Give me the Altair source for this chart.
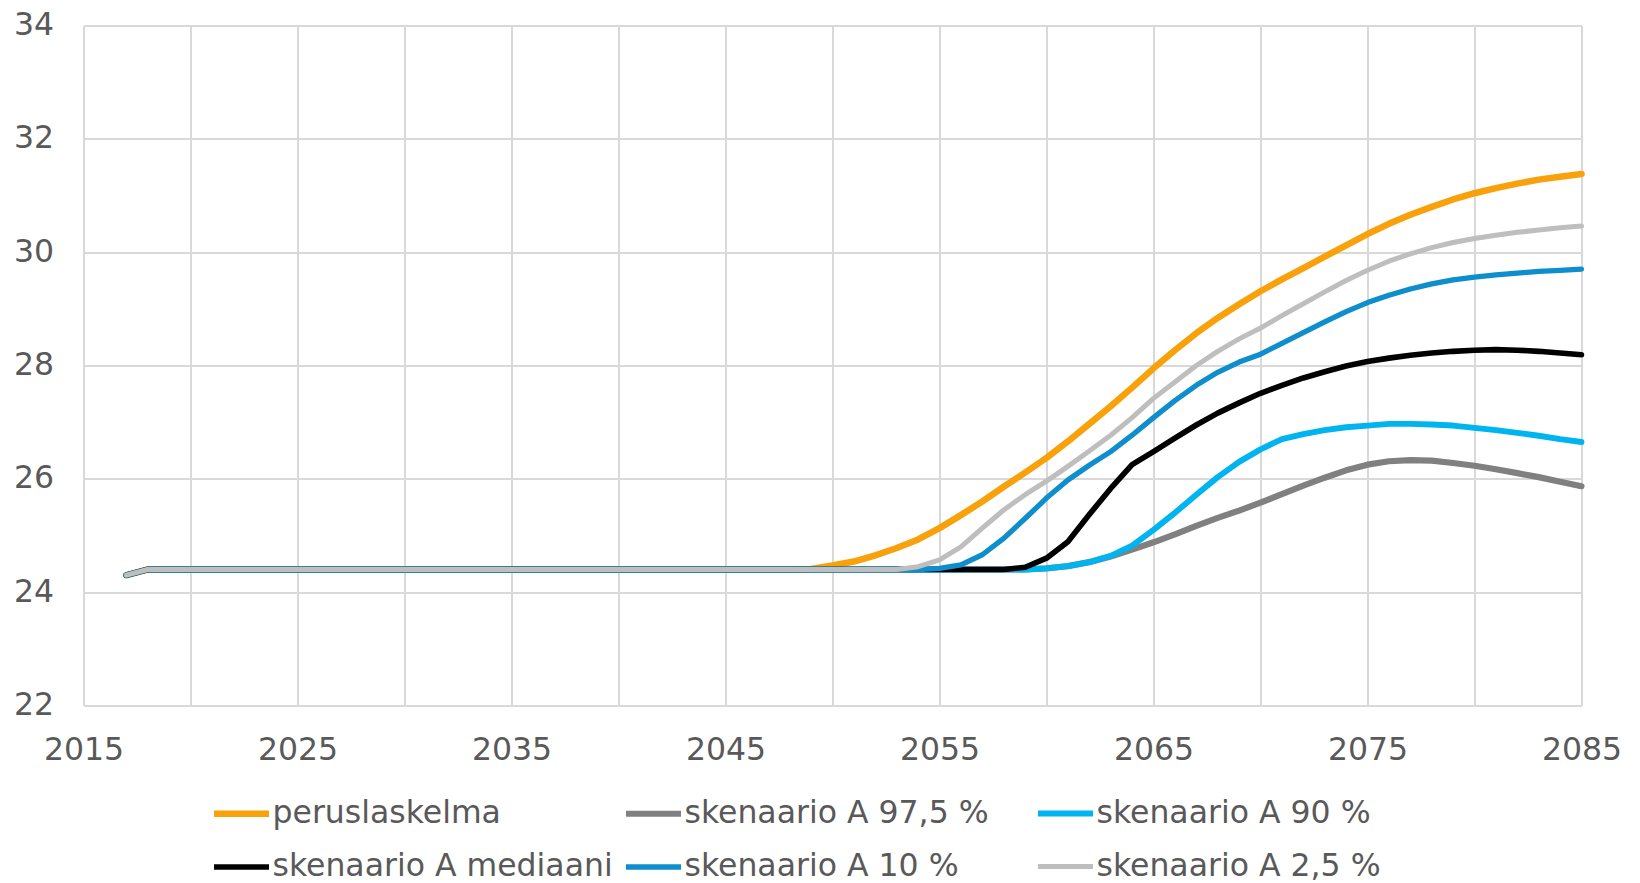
import altair as alt
import pandas as pd

years = list(range(2017, 2086))

series_names = [
    "peruslaskelma",
    "skenaario A 97,5 %",
    "skenaario A 90 %",
    "skenaario A mediaani",
    "skenaario A 10 %",
    "skenaario A 2,5 %",
]
series_colors = ["#F8A10B", "#808080", "#00B4F0", "#000000", "#0E8ECC", "#BEBEBE"]
series_widths = [6.5, 5, 5, 5, 5, 5]

x_grid_values = [2015, 2020, 2025, 2030, 2035, 2040, 2045, 2050, 2055, 2060, 2065, 2070, 2075, 2080, 2085]
y_tick_values = [22, 24, 26, 28, 30, 32, 34]

# 2017-2046 (same for every series)
common_start = [
    24.3, 24.4, 24.4, 24.4, 24.4, 24.4, 24.4, 24.4, 24.4, 24.4,
    24.4, 24.4, 24.4, 24.4, 24.4, 24.4, 24.4, 24.4, 24.4, 24.4,
    24.4, 24.4, 24.4, 24.4, 24.4, 24.4, 24.4, 24.4, 24.4, 24.4,
]

# 2047-2085
peruslaskelma = [
    24.4, 24.4, 24.41, 24.47, 24.54, 24.65, 24.78, 24.93, 25.13, 25.36,
    25.60, 25.86, 26.11, 26.37, 26.66, 26.97, 27.28, 27.61, 27.95, 28.27,
    28.57, 28.84, 29.08, 29.31, 29.52, 29.72, 29.92, 30.12, 30.32, 30.50,
    30.66, 30.80, 30.93, 31.04, 31.13, 31.21, 31.28, 31.33, 31.38,
]
skenaario_975 = [
    24.4, 24.4, 24.4, 24.4, 24.4, 24.4, 24.4, 24.4, 24.4, 24.4,
    24.4, 24.4, 24.4, 24.42, 24.46, 24.53, 24.63, 24.75, 24.88, 25.02,
    25.17, 25.31, 25.44, 25.58, 25.73, 25.88, 26.02, 26.15, 26.25, 26.31,
    26.33, 26.32, 26.28, 26.23, 26.17, 26.10, 26.03, 25.95, 25.87,
]
skenaario_90 = [
    24.4, 24.4, 24.4, 24.4, 24.4, 24.4, 24.4, 24.4, 24.4, 24.4,
    24.4, 24.4, 24.4, 24.42, 24.46, 24.53, 24.64, 24.82, 25.10, 25.40,
    25.72, 26.03, 26.30, 26.52, 26.70, 26.79, 26.86, 26.91, 26.94, 26.97,
    26.97, 26.96, 26.94, 26.90, 26.86, 26.81, 26.76, 26.70, 26.65,
]
skenaario_med = [
    24.4, 24.4, 24.4, 24.4, 24.4, 24.4, 24.4, 24.4, 24.4, 24.4,
    24.4, 24.4, 24.44, 24.60, 24.89, 25.37, 25.83, 26.25, 26.48, 26.72,
    26.95, 27.16, 27.34, 27.51, 27.65, 27.78, 27.89, 27.99, 28.07, 28.13,
    28.18, 28.22, 28.25, 28.27, 28.28, 28.27, 28.25, 28.22, 28.19,
]
skenaario_10 = [
    24.4, 24.4, 24.4, 24.4, 24.4, 24.4, 24.4, 24.4, 24.42, 24.48,
    24.66, 24.95, 25.30, 25.66, 25.98, 26.24, 26.48, 26.77, 27.08, 27.38,
    27.65, 27.88, 28.06, 28.20, 28.39, 28.58, 28.77, 28.95, 29.11, 29.24,
    29.35, 29.44, 29.51, 29.56, 29.60, 29.63, 29.66, 29.68, 29.70,
]
skenaario_25 = [
    24.4, 24.4, 24.4, 24.4, 24.4, 24.4, 24.4, 24.45, 24.57, 24.80,
    25.13, 25.45, 25.72, 25.96, 26.22, 26.49, 26.77, 27.08, 27.42, 27.71,
    28.00, 28.25, 28.47, 28.66, 28.88, 29.09, 29.30, 29.50, 29.68, 29.84,
    29.97, 30.08, 30.17, 30.24, 30.30, 30.35, 30.39, 30.43, 30.46,
]

series_values = [
    common_start + peruslaskelma,
    common_start + skenaario_975,
    common_start + skenaario_90,
    common_start + skenaario_med,
    common_start + skenaario_10,
    common_start + skenaario_25,
]

rows = []
for name, vals in zip(series_names, series_values):
    for yr, v in zip(years, vals):
        rows.append({"year": yr, "value": v, "series": name})
df = pd.DataFrame(rows)

FONT = "DejaVu Sans"
LABEL_COLOR = "#595959"

base = alt.Chart(df).mark_line(strokeCap="round", strokeJoin="round").encode(
    x=alt.X(
        "year:Q",
        scale=alt.Scale(domain=[2015, 2085], nice=False, zero=False),
        axis=alt.Axis(
            values=x_grid_values,
            format="d",
            labelExpr="(datum.value - 2015) % 10 == 0 ? datum.label : ''",
            title=None,
            labelPadding=29,
            labelFlush=False,
        ),
    ),
    y=alt.Y(
        "value:Q",
        scale=alt.Scale(domain=[22, 34], nice=False, zero=False),
        axis=alt.Axis(values=y_tick_values, title=None, labelPadding=30, labelFlush=False),
    ),
    color=alt.Color(
        "series:N",
        sort=series_names,
        scale=alt.Scale(domain=series_names, range=series_colors),
        legend=alt.Legend(
            title=None,
            orient="none",
            direction="horizontal",
            legendX=127,
            legendY=757,
            columns=3,
            gridAlign="all",
            columnPadding=0,
            rowPadding=7,
            symbolType="stroke",
            symbolSize=3025,
            symbolStrokeWidth=5.5,
            labelFontSize=31.5,
            labelFont=FONT,
            labelColor=LABEL_COLOR,
            labelOffset=0,
            labelLimit=0,
            padding=0,
        ),
    ),
    strokeWidth=alt.StrokeWidth(
        "series:N",
        scale=alt.Scale(domain=series_names, range=series_widths),
        legend=None,
    ),
)

layers = [base.transform_filter(alt.datum.series == s) for s in series_names]

chart = (
    alt.layer(*layers)
    .properties(
        width=1498,
        height=680,
        autosize=alt.AutoSizeParams(type="none"),
        padding={"left": 75.5, "top": 17.5, "right": 50, "bottom": 174},
        background="white",
    )
    .configure_view(stroke=None)
    .configure_axis(
        domain=False,
        ticks=False,
        tickSize=0,
        grid=True,
        gridColor="#D9D9D9",
        gridWidth=2,
        labelFont=FONT,
        labelFontSize=31.5,
        labelColor=LABEL_COLOR,
    )
)

chart.save("out.html", embed_options={"renderer": "svg", "actions": False})
